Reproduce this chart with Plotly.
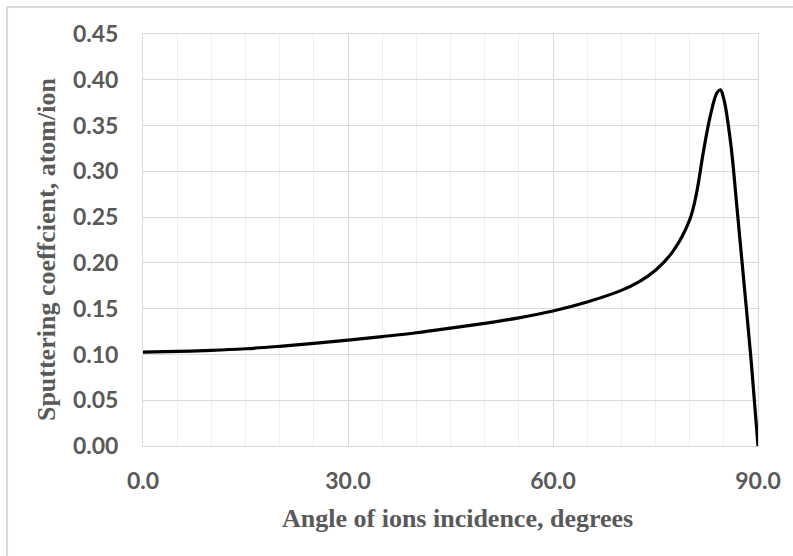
import plotly.graph_objects as go

# Sputtering coefficient vs. angle of ion incidence
angle_deg = [0, 5, 10, 15, 20, 25, 30, 35, 40, 45, 50, 55, 60, 65, 70, 72.5, 75,
             77.5, 80, 81, 82, 83, 84, 84.5, 85, 86, 87, 88, 89, 90]
sputter_coeff = [0.1026, 0.1033, 0.1044, 0.1062, 0.1089, 0.1120, 0.1156, 0.1195,
                 0.1237, 0.1287, 0.1340, 0.1400, 0.1475, 0.1573, 0.1700, 0.1790,
                 0.1920, 0.2120, 0.2470, 0.2760, 0.3210, 0.3600, 0.3860, 0.3890,
                 0.3790, 0.3310, 0.2540, 0.1740, 0.0930, 0.0]

x_ticks = [0, 30, 60, 90]
y_ticks = [0.00, 0.05, 0.10, 0.15, 0.20, 0.25, 0.30, 0.35, 0.40, 0.45]

x_title = "Angle of ions incidence, degrees"
y_title = "Sputtering coeffcient, atom/ion"

GRID = "#d9d9d9"
MINOR = "#f0f0f0"
TEXT = "#595959"
tick_font = dict(family="Lato", size=23, color=TEXT, weight="bold")
title_font = dict(family="Liberation Serif", size=26, color=TEXT, weight="bold")

fig = go.Figure(
    go.Scatter(
        x=angle_deg,
        y=sputter_coeff,
        mode="lines",
        line=dict(color="black", width=3.2, shape="spline", smoothing=1.0),
        hoverinfo="x+y",
    )
)

fig.update_layout(
    width=793,
    height=556,
    margin=dict(l=143, r=35, t=34, b=110),
    paper_bgcolor="white",
    plot_bgcolor="white",
    showlegend=False,
    xaxis=dict(
        range=[0, 90],
        tickvals=x_ticks,
        tickformat=".1f",
        tickfont=tick_font,
        ticklabelstandoff=14,
        showgrid=True,
        gridcolor=GRID,
        gridwidth=1,
        minor=dict(dtick=5, tick0=0, showgrid=True, gridcolor=MINOR, gridwidth=1),
        showline=True,
        linecolor=GRID,
        linewidth=1,
        mirror=True,
        zeroline=False,
        ticks="",
    ),
    yaxis=dict(
        range=[0, 0.45],
        tickvals=y_ticks,
        tickformat=".2f",
        tickfont=tick_font,
        ticklabelstandoff=19,
        showgrid=True,
        gridcolor=GRID,
        gridwidth=1,
        showline=True,
        linecolor=GRID,
        linewidth=1,
        mirror=True,
        zeroline=False,
        ticks="",
    ),
    annotations=[
        dict(
            text=x_title, xref="paper", yref="paper",
            x=0.5106, y=-0.177, xanchor="center", yanchor="middle",
            showarrow=False, font=title_font,
        ),
        dict(
            text=y_title, xref="paper", yref="paper",
            x=-0.1577, y=0.478, xanchor="center", yanchor="middle",
            textangle=-90, showarrow=False, font=title_font,
        ),
    ],
    shapes=[
        # chart-area frame (left and top edges)
        dict(type="line", xref="paper", yref="paper",
             x0=-0.2211, x1=-0.2211, y0=1.0655, y1=-0.4,
             line=dict(color=GRID, width=2)),
        dict(type="line", xref="paper", yref="paper",
             x0=-0.2211, x1=1.2, y0=1.0655, y1=1.0655,
             line=dict(color=GRID, width=2)),
    ],
)

fig.write_html("out.html")
